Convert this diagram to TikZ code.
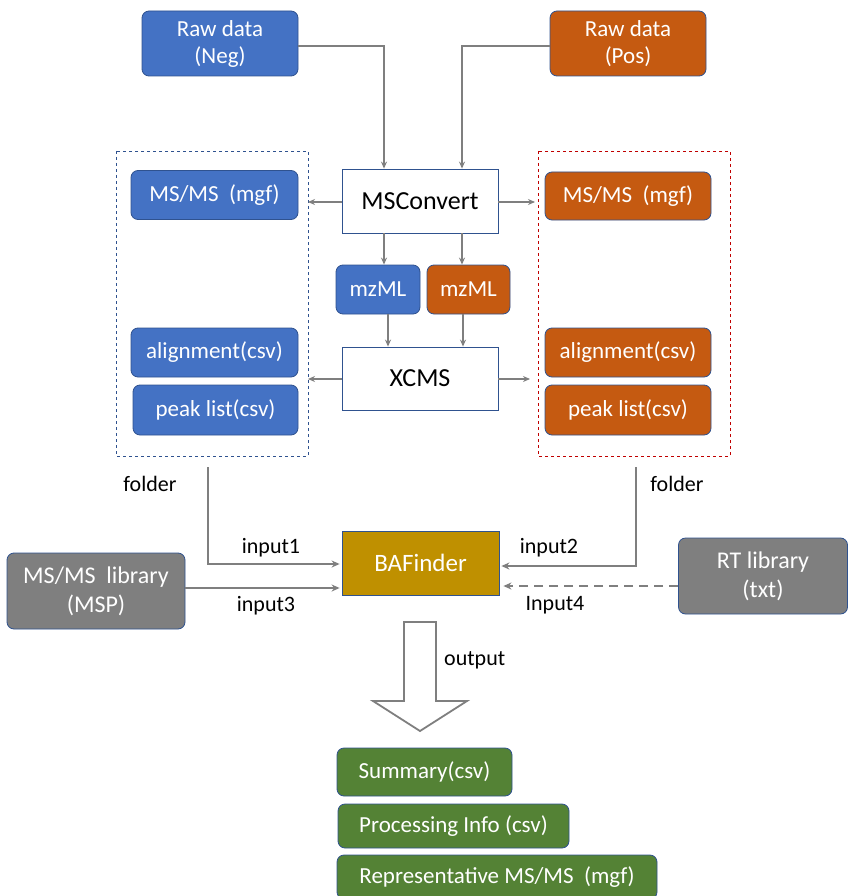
\documentclass[tikz,border=0pt]{standalone}
\usepackage{fontspec}
\setmainfont{Carlito}
\usetikzlibrary{arrows.meta}
\definecolor{negblue}{HTML}{4472C4}
\definecolor{posorange}{HTML}{C55A11}
\definecolor{libgray}{HTML}{7F7F7F}
\definecolor{findgold}{HTML}{BF9000}
\definecolor{outgreen}{HTML}{548235}
\definecolor{edgeblue}{HTML}{2F528F}
\definecolor{linegray}{HTML}{7F7F7F}
\definecolor{dashred}{HTML}{C00000}
\tikzstyle{filebox} = [draw=edgeblue, line width=0.8pt, rectangle, rounded corners=7pt,
    text=white, inner sep=0pt, align=center, font=\fontsize{23}{27}\selectfont]
\tikzstyle{negbox} = [filebox, fill=negblue]
\tikzstyle{posbox} = [filebox, fill=posorange]
\tikzstyle{libbox} = [filebox, fill=libgray, font=\fontsize{24}{29}\selectfont]
\tikzstyle{outbox} = [filebox, fill=outgreen]
\tikzstyle{toolbox} = [draw=edgeblue, line width=0.8pt, fill=white, rectangle,
    inner sep=0pt, font=\fontsize{26}{30}\selectfont]
\tikzstyle{flow} = [draw=linegray, line width=1.2pt, -{Stealth[length=7pt,width=6pt]}]
\tikzstyle{feed} = [draw=linegray, line width=2.2pt, -{Stealth[length=8pt,width=7pt]}]
\tikzstyle{tag} = [font=\fontsize{22}{26}\selectfont, inner sep=0pt]

\begin{document}
\begin{tikzpicture}[x=1pt,y=-1pt]
    \useasboundingbox (0,0) rectangle (847,896);
    % raw data and conversion
    \node [negbox, minimum width=156pt, minimum height=65pt] (rawneg) at (220,43.5) {Raw data\\(Neg)};
    \node [posbox, minimum width=156pt, minimum height=65pt] (rawpos) at (628,43.5) {Raw data\\(Pos)};
    \node [toolbox, minimum width=156pt, minimum height=64pt] (msconvert) at (420,201) {MSConvert};
    \node [negbox, minimum width=84pt, minimum height=49pt] (mzneg) at (378,289.5) {mzML};
    \node [posbox, minimum width=83pt, minimum height=49pt] (mzpos) at (468.5,289.5) {mzML};
    \node [toolbox, minimum width=156pt, minimum height=63pt] (xcms) at (420,378.5) {XCMS};
    % result folders
    \draw [edgeblue, dashed, line width=0.8pt] (116,151) rectangle (308,456);
    \draw [dashred, dashed, line width=0.8pt] (538,151) rectangle (730,456);
    \coordinate (folderneg) at (308,202);
    \coordinate (folderpos) at (538,202);
    \coordinate (folderneg2) at (308,379);
    \coordinate (folderpos2) at (538,379);
    \node [negbox, minimum width=167pt, minimum height=49pt] (mgfneg) at (214.5,195) {MS/MS~ (mgf)};
    \node [posbox, minimum width=166pt, minimum height=48pt] (mgfpos) at (628,196) {MS/MS~ (mgf)};
    \node [negbox, minimum width=167pt, minimum height=49pt] (alignneg) at (214.5,352.5) {alignment(csv)};
    \node [negbox, minimum width=165pt, minimum height=50pt] (peakneg) at (215.5,410) {peak list(csv)};
    \node [posbox, minimum width=166pt, minimum height=49pt] (alignpos) at (628,352.5) {alignment(csv)};
    \node [posbox, minimum width=166pt, minimum height=50pt] (peakpos) at (628,410) {peak list(csv)};
    \draw [flow] (rawneg.east |- 0,46) -| (msconvert.north -| 384,0);
    \draw [flow] (rawpos.west |- 0,46) -| (msconvert.north -| 462,0);
    \draw [flow] (msconvert.west |- folderneg) -- (folderneg);
    \draw [flow] (msconvert.east |- folderpos) -- ([xshift=-3pt]folderpos);
    \draw [flow] (msconvert.south -| 384,0) -- (mzneg.north -| 384,0);
    \draw [flow] (msconvert.south -| 462,0) -- (mzpos.north -| 462,0);
    \draw [flow] (mzneg.south -| 388,0) -- (xcms.north -| 388,0);
    \draw [flow] (mzpos.south -| 463,0) -- (xcms.north -| 463,0);
    \draw [flow] (xcms.west |- folderneg2) -- (folderneg2);
    \draw [flow] (xcms.east |- folderpos2) -- ([xshift=-8pt]folderpos2);
    % BAFinder and inputs
    \node [rectangle, fill=findgold, draw=edgeblue, line width=0.8pt, minimum width=157pt, minimum height=64pt,
        inner sep=0pt, text=white, font=\fontsize{25}{29}\selectfont] (bafinder) at (420.5,563) {BAFinder};
    \node [libbox, minimum width=178pt, minimum height=76pt] (msplib) at (96,591) {MS/MS~ library\\(MSP)};
    \node [libbox, minimum width=169pt, minimum height=76pt] (rtlib) at (763,576) {RT library\\(txt)};
    \coordinate (folderout1) at (208,467);
    \coordinate (folderout2) at (636,467);
    \node [tag] (foldertag1) at (150,484) {folder};
    \node [tag] (foldertag2) at (677,484) {folder};
    \draw [feed] (folderout1) |- ([xshift=-2pt]bafinder.west |- 0,564);
    \draw [feed] (folderout2) |- ([xshift=2pt]bafinder.east |- 0,566);
    \draw [feed] (msplib.east |- 0,588) -- ([xshift=-2pt]bafinder.west |- 0,588);
    \draw [feed, dashed, dash pattern=on 9pt off 6pt] (rtlib.west |- 0,586) -- ([xshift=4pt]bafinder.east |- 0,586);
    \node [tag] (in1) at (271,548) {input1};
    \node [tag] (in2) at (549,548) {input2};
    \node [tag] (in3) at (266,606) {input3};
    \node [tag] (in4) at (555,605) {Input4};
    % output
    \draw [linegray, fill=white, line width=1.8pt, line join=miter]
        (404,622) -- (436,622) -- (436,701) -- (467,701) -- (420,731) -- (373,701) -- (404,701) -- cycle;
    \node [tag, anchor=west] (outtag) at (444,660) {output};
    \node [outbox, minimum width=175pt, minimum height=48pt] (summary) at (424.5,772) {Summary(csv)};
    \node [outbox, minimum width=231pt, minimum height=44pt] (procinfo) at (453.5,826) {Processing Info (csv)};
    \node [outbox, minimum width=320pt, minimum height=44pt] (repms) at (497,877) {Representative MS/MS~ (mgf)};
\end{tikzpicture}
\end{document}
